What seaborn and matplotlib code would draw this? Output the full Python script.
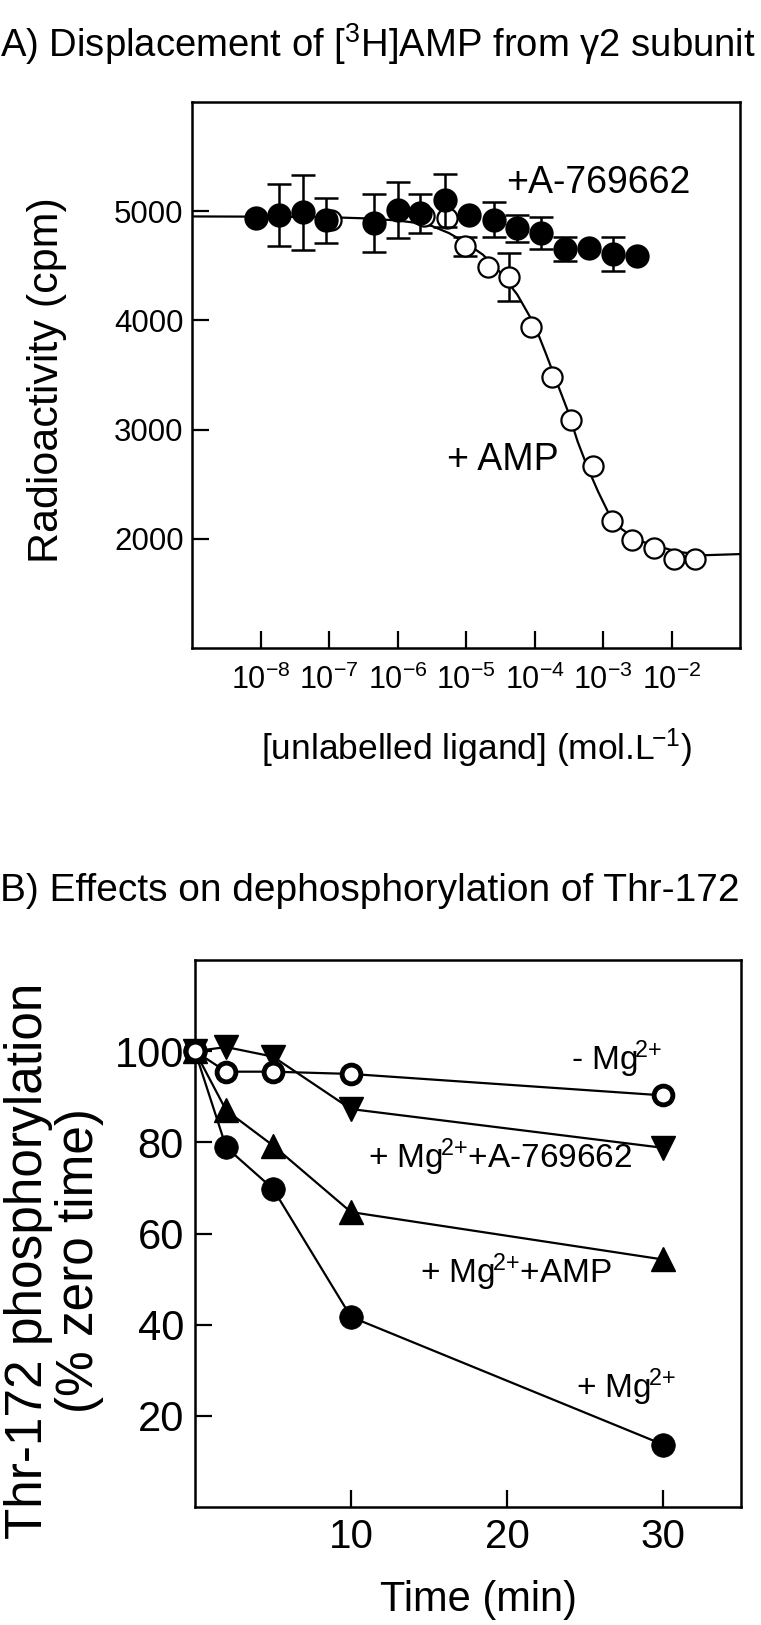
import numpy as np
import matplotlib
matplotlib.use("Agg")
import matplotlib.pyplot as plt
from matplotlib.ticker import NullLocator
import seaborn as sns

# ---- Panel A: displacement of [3H]AMP (log10 molar, cpm) ----
log_conc_a769 = [-8.07, -7.73, -7.38, -7.04, -6.35, -5.99, -5.67, -5.30,
                 -4.96, -4.59, -4.26, -3.90, -3.56, -3.20, -2.86, -2.50]
cpm_a769 = [4940, 4965, 4990, 4915, 4890, 5015, 4980, 5100,
            4962, 4922, 4842, 4798, 4658, 4662, 4608, 4586]
err_a769 = [0, 280, 345, 207, 268, 256, 181, 245,
            0, 158, 125, 148, 110, 0, 158, 0]

log_conc_amp = [-6.97, -5.62, -5.28, -5.01, -4.68, -4.37, -4.05, -3.74,
                -3.47, -3.15, -2.87, -2.58, -2.25, -1.96, -1.65]
cpm_amp = [4920, 4955, 4942, 4678, 4492, 4400, 3942, 3485,
           3092, 2671, 2162, 1989, 1915, 1812, 1817]
err_amp = [0, 0, 0, 90, 0, 218, 0, 0, 0, 0, 0, 0, 0, 0, 0]

# fitted displacement curve
fit_log_conc = [-9.0, -8.0, -7.0, -6.5, -6.0, -5.75, -5.5, -5.25, -5.0, -4.75,
                -4.5, -4.25, -4.0, -3.83, -3.66, -3.51, -3.37, -3.22, -3.07,
                -2.93, -2.73, -2.49, -2.19, -1.9, -1.5, -1.0]
fit_cpm = [4952, 4950, 4945, 4935, 4915, 4895, 4865, 4800, 4710, 4600,
           4440, 4235, 3960, 3690, 3410, 3165, 2890, 2645, 2430,
           2250, 2090, 1985, 1930, 1880, 1850, 1860]

xtick_exp_a = [-8, -7, -6, -5, -4, -3, -2]
yticks_a = [2000, 3000, 4000, 5000]

# ---- Panel B: dephosphorylation of Thr-172 ----
time_min = [0, 2, 5, 10, 30]
pct_no_mg = [100, 95.5, 95.5, 95.0, 90.3]
pct_mg_a769 = [100, 100.9, 98.8, 87.3, 78.8]
pct_mg_amp = [100, 87.0, 79.3, 64.7, 54.3]
pct_mg = [100, 78.9, 69.8, 41.7, 13.7]
xticks_b = [10, 20, 30]
yticks_b = [20, 40, 60, 80, 100]

sns.set_theme(style="ticks")
plt.rcParams["font.family"] = ["Liberation Sans", "DejaVu Sans"]
plt.rcParams.update({
    "mathtext.fontset": "custom",
    "mathtext.rm": "Liberation Sans",
    "mathtext.it": "Liberation Sans:italic",
    "mathtext.bf": "Liberation Sans:bold",
    "mathtext.default": "regular",
    "text.color": "black",
    "axes.labelcolor": "black",
    "xtick.color": "black",
    "ytick.color": "black",
})

W, H = 761, 1625
fig = plt.figure(figsize=(W / 100, H / 100), dpi=100)
axA = fig.add_axes([192 / W, 1 - 648 / H, 548 / W, 546 / H])
axB = fig.add_axes([195 / W, 1 - 1507 / H, 546 / W, 547 / H])

# ---------------- Panel A ----------------
axA.set_xscale("log")
sns.lineplot(x=10.0 ** np.array(fit_log_conc), y=fit_cpm, ax=axA,
             color="black", lw=1.6, zorder=1)

amp_x = 10.0 ** np.array(log_conc_amp)
a769_x = 10.0 ** np.array(log_conc_a769)

m = np.array(err_amp) > 0
axA.errorbar(amp_x[m], np.array(cpm_amp)[m], yerr=np.array(err_amp)[m],
             fmt="none", ecolor="black", elinewidth=1.8, capsize=8.5,
             capthick=1.8, zorder=2)
sns.scatterplot(x=amp_x, y=cpm_amp, ax=axA, s=14.5 ** 2, color="white",
                edgecolor="black", linewidth=1.6, zorder=3)

m = np.array(err_a769) > 0
axA.errorbar(a769_x[m], np.array(cpm_a769)[m], yerr=np.array(err_a769)[m],
             fmt="none", ecolor="black", elinewidth=1.8, capsize=8.5,
             capthick=1.8, zorder=4)
sns.scatterplot(x=a769_x, y=cpm_a769, ax=axA, s=17.5 ** 2, color="black",
                edgecolor="black", linewidth=0, zorder=5)

axA.set_xlim(1e-9, 1e-1)
axA.set_ylim(1000, 6000)
axA.set_xticks([10.0 ** e for e in xtick_exp_a])
axA.set_xticklabels([f"$10^{{{e}}}$" for e in xtick_exp_a])
axA.xaxis.set_minor_locator(NullLocator())
axA.set_yticks(yticks_a)
axA.set_yticklabels([str(v) for v in yticks_a])
axA.tick_params(axis="both", direction="in", length=12, width=1.6)
axA.tick_params(axis="x", labelsize=22, pad=12)
axA.tick_params(axis="y", labelsize=22.5, pad=6)
for sp in axA.spines.values():
    sp.set_linewidth(1.8)
    sp.set_color("black")

axA.text(10 ** -4.41, 5170, "+A-769662", fontsize=27, ha="left", va="baseline")
axA.text(10 ** -5.28, 2630, "+ AMP", fontsize=27, ha="left", va="baseline")

axA.set_ylabel("Radioactivity (cpm)", fontsize=31, va="center")
axA.yaxis.set_label_coords(-0.265, 0.49)
axA.set_xlabel(r"[unlabelled ligand] (mol.$\mathregular{L^{\!{-}1}}$)",
               fontsize=25.5, va="center")
axA.xaxis.set_label_coords(0.519, -0.183)

# ---------------- Panel B ----------------
series_b = [
    (pct_mg, "o", "black", 17, 0.5),
    (pct_mg_amp, "^", "black", 17, 1.0),
    (pct_mg_a769, "v", "black", 17, 1.0),
    (pct_no_mg, "o", "white", 13.5, 3.5),
]
for i, (vals, mk, fc, ms, mew) in enumerate(series_b):
    sns.lineplot(x=time_min, y=vals, ax=axB, color="black", lw=1.6,
                 marker=mk, markersize=ms, markerfacecolor=fc,
                 markeredgecolor="black", markeredgewidth=mew,
                 clip_on=False, zorder=3 + i)

axB.set_xlim(0, 35)
axB.set_ylim(0, 120)
axB.set_xticks(xticks_b)
axB.set_yticks(yticks_b)
axB.tick_params(axis="both", direction="in", length=12, width=1.6)
axB.tick_params(axis="x", labelsize=29, pad=8)
axB.tick_params(axis="y", labelsize=30, pad=8)
for sp in axB.spines.values():
    sp.set_linewidth(1.8)
    sp.set_color("black")

mg = r"$\mathregular{Mg^{\!2{+}}}$"
axB.text(24.1, 95.9, "- " + mg, fontsize=24, ha="left", va="baseline")
axB.text(11.1, 74.4, "+ " + mg + "+A-769662", fontsize=24, ha="left", va="baseline")
axB.text(14.4, 49.2, "+ " + mg + "+AMP", fontsize=24, ha="left", va="baseline")
axB.text(24.4, 24.0, "+ " + mg, fontsize=24, ha="left", va="baseline")

axB.set_ylabel("Thr-172 phosphorylation\n(% zero time)", fontsize=37,
               va="center", linespacing=1.05)
axB.yaxis.set_label_coords(-0.258, 0.45)
axB.set_xlabel("Time (min)", fontsize=30, va="center")
axB.xaxis.set_label_coords(0.52, -0.170)

# ---------------- panel titles ----------------
fig.text(0.0, 1 - 44 / H, r"A) Displacement of $\mathregular{[^{3}H]}$AMP from γ2 subunit",
         fontsize=27.5, ha="left", va="center")
fig.text(0.0, 1 - 891 / H, "B) Effects on dephosphorylation of Thr-172",
         fontsize=28, ha="left", va="center")

fig.savefig("out.png", dpi=100, facecolor="white")
